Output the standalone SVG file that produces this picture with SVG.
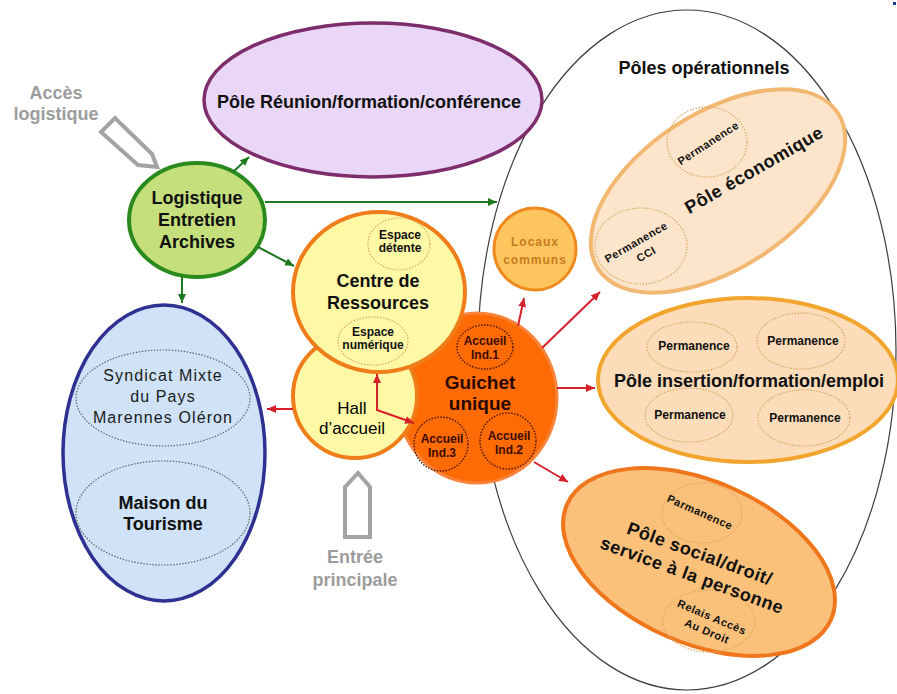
<svg xmlns="http://www.w3.org/2000/svg" width="897" height="694" viewBox="0 0 897 694">
<defs>
<style>
text{font-family:"Liberation Sans",Arial,sans-serif;font-weight:bold;text-anchor:middle;fill:#111}
.big{font-size:18px}
.gray{font-size:18px;fill:#9c9c9c}
.small{font-size:12px}
.tiny{font-size:11px;letter-spacing:0.5px}
.dotY{fill:none;stroke:#d9a860;stroke-width:1.2;stroke-dasharray:1.5 1.5}
.dotK{fill:none;stroke:#4a1800;stroke-width:1.4;stroke-dasharray:1.5 1.5}
.dotB{fill:none;stroke:#666;stroke-width:1.2;stroke-dasharray:1.5 1.5}
.yel{fill:#fff9a6;stroke:#ef7d1a;stroke-width:4}
.green{stroke:#1e7a1e;stroke-width:2;fill:none}
.red{stroke:#d6202a;stroke-width:2;fill:none}
.hollow{fill:#fff;stroke:#a3a3a3;stroke-width:4;stroke-linejoin:miter}
.sy{font-size:16px;font-weight:normal;letter-spacing:1.1px;fill:#1a1a1a}
.acc{fill:#3a0c00}
</style>
<marker id="ag" markerUnits="userSpaceOnUse" markerWidth="9" markerHeight="8" refX="9" refY="4" orient="auto-start-reverse"><path d="M0,0 L9,4 L0,8 z" fill="#1e7a1e"/></marker>
<marker id="ar" markerUnits="userSpaceOnUse" markerWidth="9" markerHeight="8" refX="9" refY="4" orient="auto-start-reverse"><path d="M0,0 L9,4 L0,8 z" fill="#d6202a"/></marker>
</defs>
<rect width="897" height="694" fill="#fff"/>
<rect x="893" y="2" width="3" height="3" fill="#1a3a9a"/>

<g id="poles-operationnels">
<ellipse cx="687" cy="350" rx="209" ry="340" fill="none" stroke="#3c3c3c" stroke-width="1.2"/>
<text class="big" x="704" y="74">Pôles opérationnels</text>
</g>

<g id="pole-reunion">
<ellipse cx="373" cy="100" rx="169" ry="77" fill="#ead6f7" stroke="#7d2d6c" stroke-width="3.5"/>
<text class="big" x="369" y="108" font-size="18.5">Pôle Réunion/formation/conférence</text>
</g>

<g id="pole-economique">
<ellipse cx="0" cy="0" rx="143" ry="78" transform="translate(718,191) rotate(-33)" fill="#fde5cb" stroke="#f2b872" stroke-width="4"/>
<ellipse class="dotY" cx="707" cy="142" rx="40" ry="35"/>
<ellipse class="dotY" cx="641" cy="246" rx="46" ry="38"/>
<text class="tiny" transform="translate(708,143) rotate(-33)" y="4">Permanence</text>
<text class="tiny" transform="translate(636,242) rotate(-30)" y="4">Permanence</text>
<text class="tiny" transform="translate(646,254) rotate(-30)" y="4">CCI</text>
<text class="big" transform="translate(754,170) rotate(-30)" y="6" letter-spacing="0.5">Pôle économique</text>
</g>

<g id="pole-insertion">
<ellipse cx="748" cy="380" rx="150" ry="82" fill="#fddcb9" stroke="#f2a52e" stroke-width="4"/>
<ellipse class="dotY" cx="692" cy="347" rx="45" ry="25"/>
<ellipse class="dotY" cx="801" cy="341" rx="44" ry="28"/>
<ellipse class="dotY" cx="689" cy="415" rx="44" ry="27"/>
<ellipse class="dotY" cx="804" cy="418" rx="46" ry="28"/>
<text class="small" x="694" y="350">Permanence</text>
<text class="small" x="803" y="345">Permanence</text>
<text class="small" x="690" y="419">Permanence</text>
<text class="small" x="805" y="422">Permanence</text>
<text class="big" x="749" y="387">Pôle insertion/formation/emploi</text>
</g>

<g id="pole-social">
<ellipse cx="0" cy="0" rx="144" ry="81" transform="translate(699,562) rotate(23.5)" fill="#fbc17a" stroke="#f0761c" stroke-width="4"/>
<ellipse class="dotY" cx="702" cy="513" rx="40" ry="30"/>
<ellipse class="dotY" cx="709" cy="621" rx="46" ry="31"/>
<text class="tiny" transform="translate(700,512) rotate(24)" y="4">Parmanence</text>
<g transform="translate(696,564) rotate(20)">
<text class="big" y="-5" letter-spacing="0.5">Pôle social/droit/</text>
<text class="big" y="18" letter-spacing="0.5">service à la personne</text>
</g>
<text class="tiny" transform="translate(712,617) rotate(23)" y="4">Relais Accès</text>
<text class="tiny" transform="translate(707,631) rotate(23)" y="4">Au Droit</text>
</g>

<g id="locaux-communs">
<circle cx="535" cy="249" r="41" fill="#fcc55e" stroke="#f08a1e" stroke-width="3"/>
<text class="small" x="535" y="246" style="fill:#c97a22;letter-spacing:1px">Locaux</text>
<text class="small" x="535" y="264" style="fill:#c97a22;letter-spacing:1px">communs</text>
</g>

<g id="syndicat-maison">
<ellipse cx="164" cy="453" rx="101" ry="148" fill="#cfe2f7" stroke="#2e3192" stroke-width="3.5"/>
<ellipse class="dotB" cx="163" cy="398" rx="87" ry="48"/>
<ellipse class="dotB" cx="163" cy="513" rx="87" ry="52"/>
<text class="sy" x="163" y="381">Syndicat Mixte</text>
<text class="sy" x="163" y="402">du Pays</text>
<text class="sy" x="163" y="423">Marennes Oléron</text>
<text class="big" x="163" y="509">Maison du</text>
<text class="big" x="163" y="530">Tourisme</text>
</g>

<g id="logistique">
<ellipse cx="197" cy="220" rx="68" ry="57" fill="#c5df7c" stroke="#2b8a1e" stroke-width="4"/>
<text class="big" x="197" y="204">Logistique</text>
<text class="big" x="197" y="226">Entretien</text>
<text class="big" x="197" y="248">Archives</text>
</g>

<g id="guichet-unique">
<ellipse cx="477" cy="398" rx="80" ry="85" fill="#fe6a04" stroke="#f7843a" stroke-width="3"/>
<ellipse class="dotK" cx="485" cy="347" rx="28" ry="22"/>
<ellipse class="dotK" cx="508" cy="441" rx="28" ry="28"/>
<ellipse class="dotK" cx="441" cy="444" rx="27" ry="27"/>
<text class="small acc" x="485" y="345">Accueil</text>
<text class="small acc" x="485" y="359">Ind.1</text>
<text class="small acc" x="509" y="440">Accueil</text>
<text class="small acc" x="509" y="454">Ind.2</text>
<text class="small acc" x="442" y="443">Accueil</text>
<text class="small acc" x="442" y="457">Ind.3</text>
<text x="480" y="389" font-size="19" style="fill:#2a0800">Guichet</text>
<text x="480" y="410" font-size="19" style="fill:#2a0800">unique</text>
</g>

<g id="hall-accueil">
<circle class="yel" cx="355" cy="396" r="62"/>
<text x="352" y="414" font-size="17" style="font-weight:normal;fill:#000">Hall</text>
<text x="352" y="434" font-size="17" style="font-weight:normal;fill:#000">d’accueil</text>
</g>

<g id="centre-ressources">
<ellipse class="yel" cx="379" cy="292" rx="86" ry="80"/>
<ellipse class="dotY" cx="399" cy="244" rx="31" ry="26"/>
<ellipse class="dotY" cx="373" cy="341" rx="35" ry="24"/>
<text class="small" x="400" y="239">Espace</text>
<text class="small" x="400" y="252">détente</text>
<text class="small" x="373" y="336">Espace</text>
<text class="small" x="373" y="349">numérique</text>
<text class="big" x="378" y="287">Centre de</text>
<text class="big" x="378" y="309">Ressources</text>
</g>

<g id="acces-logistique">
<polygon class="hollow" points="101,132 115,118 152,154 157,167 138,165"/>
<text class="gray" x="56" y="99">Accès</text>
<text class="gray" x="56" y="120">logistique</text>
</g>

<g id="entree-principale">
<polygon class="hollow" points="345,487 358,473 370,487 370,537 345,537"/>
<text class="gray" x="355" y="563">Entrée</text>
<text class="gray" x="355" y="586">principale</text>
</g>

<g id="connectors">
<line class="green" x1="233" y1="172" x2="249" y2="157" marker-end="url(#ag)"/>
<line class="green" x1="265" y1="202" x2="497" y2="202" marker-end="url(#ag)"/>
<line class="green" x1="182" y1="277" x2="182" y2="303" marker-end="url(#ag)"/>
<line class="green" x1="258" y1="247" x2="294" y2="266" marker-end="url(#ag)"/>
<line class="red" x1="518" y1="326" x2="524" y2="298" marker-end="url(#ar)"/>
<line class="red" x1="542" y1="348" x2="600" y2="292" marker-end="url(#ar)"/>
<line class="red" x1="557" y1="388" x2="595" y2="388" marker-end="url(#ar)"/>
<line class="red" x1="534" y1="462" x2="568" y2="482" marker-end="url(#ar)"/>
<line class="red" x1="293" y1="409" x2="267" y2="409" marker-end="url(#ar)"/>
<polyline class="red" points="377,374 377,410 414,423" marker-start="url(#ar)" marker-end="url(#ar)"/>
</g>
</svg>
